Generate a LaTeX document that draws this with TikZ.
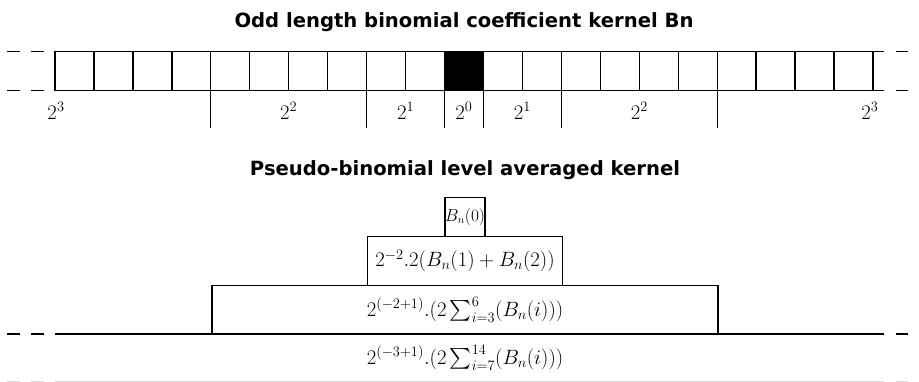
\documentclass[tikz,border=0pt]{standalone}
\usepackage{fontspec}
\usepackage{amsmath}
\usepackage{tikz}
\usetikzlibrary{positioning,calc}
\newfontfamily\headfont{DejaVu Sans}

\begin{document}
\begin{tikzpicture}[x=1pt,y=-1pt,line width=1.3pt,
    cell/.style={draw,minimum size=38.95pt,inner sep=0pt,outer sep=0pt},
    lvl/.style={draw,inner sep=0pt,outer sep=0pt,font=\fontsize{20}{24}\selectfont},
    powlbl/.style={inner sep=0pt,font=\fontsize{21}{25}\selectfont},
    heading/.style={font=\headfont\bfseries\fontsize{19.6}{23}\selectfont},
    ends/.style={dash pattern=on 12.5pt off 11.5pt}]
  \useasboundingbox (0,0) rectangle (919,382);

  % kernel cells
  \node[heading] (t1) at (464,22) {Odd length binomial coefficient kernel Bn};
  \foreach \i in {0,...,20}
    \node[cell] (c\i) at ({74.5+38.95*\i},71) {};
  \node[cell,fill=black] at (c10) {};
  \draw (c20.north east) -- ++(11,0) coordinate (tr);
  \draw (c20.south east) -- ++(11,0) coordinate (br);
  \draw[ends] (c0.north west) ++(-48,0) -- ++(37,0);
  \draw[ends] (c0.south west) ++(-48,0) -- ++(37,0);
  \draw[ends] (tr) ++(12,0) -- ++(23,0);
  \draw[ends] (br) ++(12,0) -- ++(23,0);

  % level separators and labels
  \foreach \i in {4,8,10,11,13,17}
    \draw (c\i.south west) -- ++(0,38);
  \node[powlbl,anchor=base] (p3l) at ($(c0.south west)+(1,29)$) {$2^3$};
  \node[powlbl,anchor=base] (p2l) at ($(c4.south west)!0.5!(c8.south west)+(0,29)$) {$2^2$};
  \node[powlbl,anchor=base] (p1l) at ($(c8.south west)!0.5!(c10.south west)+(0,29)$) {$2^1$};
  \node[powlbl,anchor=base] (p0) at ($(c10.south west)!0.5!(c11.south west)+(0,29)$) {$2^0$};
  \node[powlbl,anchor=base] (p1r) at ($(c11.south west)!0.5!(c13.south west)+(0,29)$) {$2^1$};
  \node[powlbl,anchor=base] (p2r) at ($(c13.south west)!0.5!(c17.south west)+(0,29)$) {$2^2$};
  \node[powlbl,anchor=base] (p3r) at ($(c20.south east)+(-3,29)$) {$2^3$};

  % averaged kernel
  \node[heading] (t2) at (465,170) {Pseudo-binomial level averaged kernel};
  \node[lvl,minimum width=39.7pt,minimum height=39.4pt,font=\fontsize{16}{19}\selectfont] (b0) at (465,217) {$B_n(0)$};
  \node[lvl,minimum width=194.6pt,minimum height=48.6pt,below=0pt of b0] (b1) {$2^{-2}.2(B_n(1)+B_n(2))$};
  \node[lvl,minimum width=506pt,minimum height=48.7pt,below=0pt of b1] (b2) {$2^{(-2+1)}.(2\sum_{i=3}^{6}(B_n(i)))$};
  \node[lvl,draw=none,minimum width=506pt,minimum height=47.5pt,below=0pt of b2] (b3) {$2^{(-3+1)}.(2\sum_{i=7}^{14}(B_n(i)))$};
  \draw (b2.south west -| c0.south west) coordinate (ml) -- (b2.south east -| br) coordinate (mr);
  \draw[ends] (ml) ++(-48,0) -- ++(37,0);
  \draw[ends] (mr) ++(12,0) -- ++(23,0);
  % last level, cut by the border
  \begin{scope}[black!15]
    \draw (b3.south west -| c0.south west) coordinate (ll) -- (b3.south east -| br) coordinate (lr);
    \draw[ends] (ll) ++(-48,0) -- ++(37,0);
    \draw[ends] (lr) ++(12,0) -- ++(23,0);
  \end{scope}
\end{tikzpicture}
\end{document}
